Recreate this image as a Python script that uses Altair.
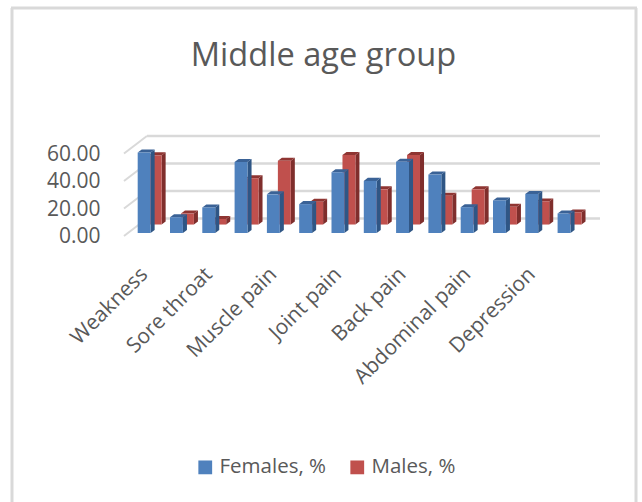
import altair as alt
import pandas as pd

# Every second category carries a visible label on the axis
tick_labels = ["Weakness", "Sore throat", "Muscle pain", "Joint pain",
               "Back pain", "Abdominal pain", "Depression"]
females = [58.6, 11.5, 18.6, 51.6, 28.1, 21.0, 44.2,
           37.9, 51.8, 42.5, 18.8, 23.7, 28.4, 14.2]
males = [50.3, 8.0, 4.1, 33.7, 46.4, 16.6, 50.5,
         25.6, 50.5, 21.0, 25.6, 12.9, 16.8, 8.8]
y_ticks = [0, 20, 40, 60]
chart_title = "Middle age group"

FONT = "Open Sans"
TEXT = "#595959"
GRID = "#d9d9d9"

# Pseudo-3D geometry, in data units of the two axes
BAR_START = 0.424
BAR_W = 0.40
DEPTH_X = 0.125
DEPTH_Y = 2.2
RED_SHIFT_X = 0.34
RED_SHIFT_Y = 6.15
WALL_X = 0.71
WALL_Y = 10.6
FLOOR_DROP = 2.2
X_MAX = 14.737


def series_frames(values, shift_x, base):
    fronts, sides, tops = [], [], []
    for i, v in enumerate(values):
        x0 = i + BAR_START + shift_x
        x1 = x0 + BAR_W
        low, high = base, base + v
        fronts.append(dict(x0=x0, x1=x1, y0=low, y1=high))
        sides += [dict(bar=i, x=x1, y=low, y2=high),
                  dict(bar=i, x=x1 + DEPTH_X, y=low + DEPTH_Y, y2=high + DEPTH_Y)]
        hi = high + DEPTH_Y
        tops += [dict(bar=i, x=x0, y=high, y2=high),
                 dict(bar=i, x=x0 + DEPTH_X, y=high, y2=hi),
                 dict(bar=i, x=x1, y=high, y2=hi),
                 dict(bar=i, x=x1 + DEPTH_X, y=hi, y2=hi)]
    return pd.DataFrame(fronts), pd.DataFrame(sides), pd.DataFrame(tops)


x_scale = alt.Scale(domain=[0, X_MAX], nice=False, zero=False)
y_scale = alt.Scale(domain=[0, 80], nice=False)
colour_scale = alt.Scale(domain=["Females, %", "Males, %"], range=["#4f81bd", "#c0504d"])

label_expr = "[" + ",".join(f"'{t}'" for t in tick_labels) + "][floor(datum.value / 2)]"

# One axis definition, shared by every layer so that they merge cleanly
x_axis = alt.Axis(
    values=[i * 2 + 0.62 for i in range(len(tick_labels))],
    labelExpr=label_expr, labelAngle=315, labelAlign="right", labelBaseline="middle",
    labelFontSize=21, labelFont=FONT, labelColor=TEXT, labelPadding=38,
    labelOverlap=False, labelBound=False, labelFlush=False,
    domain=False, ticks=False, grid=False, title=None)
y_axis = alt.Axis(
    values=y_ticks, format=".2f", labelFontSize=21, labelFont=FONT, labelColor=TEXT,
    labelPadding=24, labelOverlap=False, labelOffset=3.5, labelBound=False, labelFlush=False,
    labelSeparation=0, domain=False, ticks=False, grid=False, title=None)


def xq(field):
    return alt.X(field, scale=x_scale, axis=x_axis)


def yq(field):
    return alt.Y(field, scale=y_scale, axis=y_axis)


# Back wall lines and the slanted floor lines joining them to the front plane
walls = pd.DataFrame([dict(x=WALL_X, x2=X_MAX, y=v + WALL_Y, y2=v + WALL_Y) for v in y_ticks])
slants = pd.DataFrame([dict(x=0, x2=WALL_X, y=v - FLOOR_DROP, y2=v + WALL_Y) for v in y_ticks])

wall_lines = alt.Chart(walls).mark_rule(color=GRID, strokeWidth=2.5).encode(
    x=xq("x:Q"), x2="x2:Q", y=yq("y:Q"), y2="y2:Q",
)
slant_lines = alt.Chart(slants).mark_rule(color=GRID, strokeWidth=2).encode(
    x=xq("x:Q"), x2="x2:Q", y=yq("y:Q"), y2="y2:Q",
)


def bar_layers(values, shift_x, base, name, side_colour, top_colour):
    front, side, top = series_frames(values, shift_x, base)
    front["series"] = name
    sides = alt.Chart(side).mark_area(color=side_colour).encode(
        x=xq("x:Q"), y=yq("y:Q"), y2="y2:Q", detail="bar:N")
    tops = alt.Chart(top).mark_area(color=top_colour).encode(
        x=xq("x:Q"), y=yq("y:Q"), y2="y2:Q", detail="bar:N")
    fronts = alt.Chart(front).mark_rect().encode(
        x=xq("x0:Q"), x2="x1:Q",
        y=yq("y0:Q"), y2="y1:Q",
        color=alt.Color("series:N", scale=colour_scale, legend=alt.Legend(
            title=None, orient="none", legendX=71, legendY=334, direction="horizontal",
            symbolType="square", symbolSize=190, symbolStrokeWidth=0, symbolOpacity=1,
            labelFontSize=20.5, labelFont=FONT, labelColor=TEXT, labelOffset=4,
            columnPadding=21)),
    )
    return [sides, tops, fronts]


# Outline of the chart area: left, top and right edges
frame = [
    alt.Chart(pd.DataFrame({"k": [0]})).mark_rule(color=GRID, strokeWidth=3).encode(
        x=alt.value(px), y=alt.value(-115), y2=alt.value(379))
    for px in (-112, 512)
] + [
    alt.Chart(pd.DataFrame({"k": [0]})).mark_rule(color=GRID, strokeWidth=3).encode(
        x=alt.value(-113), x2=alt.value(513), y=alt.value(-115))
]

heading = alt.Chart(pd.DataFrame({"t": [chart_title]})).mark_text(
    font=FONT, fontSize=32.6, color=TEXT, align="center", baseline="alphabetic",
).encode(x=alt.value(199.5), y=alt.value(-57), text="t:N")

chart = alt.layer(
    wall_lines, slant_lines, *frame, heading,
    *bar_layers(males, RED_SHIFT_X, RED_SHIFT_Y, "Males, %", "#7f2e2c", "#8f3532"),
    *bar_layers(females, 0, 0, "Females, %", "#2f5685", "#3a6296"),
).resolve_scale(color="shared").properties(
    width=476, height=110,
    padding={"left": 124, "top": 123, "right": 42, "bottom": 269},
    autosize=alt.AutoSizeParams(type="none"),
).configure(background="white", view=alt.ViewConfig(stroke=None))

chart.save("out.html", embed_options={"renderer": "svg", "actions": False})
